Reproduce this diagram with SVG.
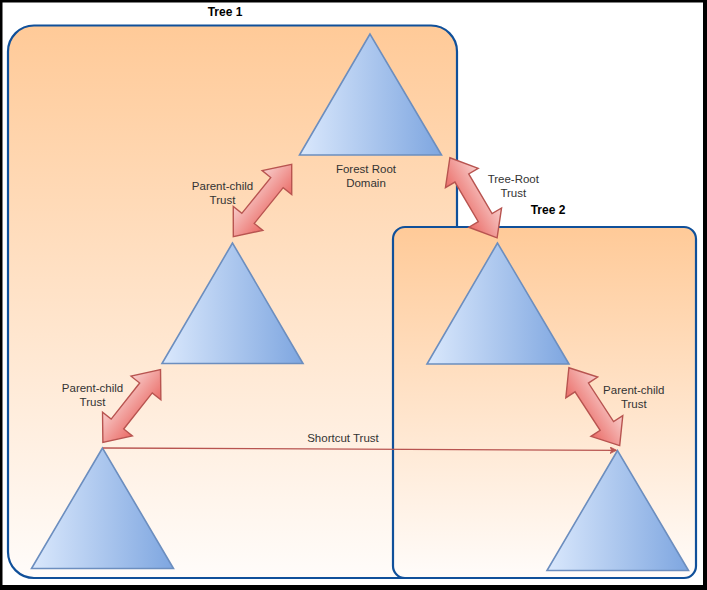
<svg xmlns="http://www.w3.org/2000/svg" width="707" height="590" viewBox="0 0 707 590">
<defs>
<linearGradient id="boxGrad" x1="0" y1="0" x2="0" y2="1">
<stop offset="0" stop-color="#FFCA98"/>
<stop offset="1" stop-color="#FFFCFA"/>
</linearGradient>
<linearGradient id="triGrad" x1="0" y1="0" x2="1" y2="0">
<stop offset="0" stop-color="#DAE8FC"/>
<stop offset="1" stop-color="#7EA6E0"/>
</linearGradient>
<linearGradient id="arrGrad" x1="0" y1="0" x2="0" y2="1">
<stop offset="0" stop-color="#F8CECC"/>
<stop offset="1" stop-color="#EA6B66"/>
</linearGradient>
<marker id="tip" viewBox="0 0 10 10" refX="9" refY="5" markerWidth="7" markerHeight="7" markerUnits="userSpaceOnUse" orient="auto">
<path d="M0,0 L10,5 L0,10 L3,5 Z" fill="#B85450" stroke="#B85450" stroke-width="1"/>
</marker>
<path id="dblArrow" d="M-46.5,0 L-23,-19 L-23,-8 L23,-8 L23,-19 L46.5,0 L23,19 L23,8 L-23,8 L-23,19 Z"/>
</defs>
<style>
.box{fill:url(#boxGrad);stroke:#10509A;stroke-width:2.2}
.tri{fill:url(#triGrad);stroke:#6C8EBF;stroke-width:1.6;stroke-linejoin:miter}
.blk{fill:url(#arrGrad);stroke:#B85450;stroke-width:1.4}
.lbl{font-family:"Liberation Sans",Arial,sans-serif;font-size:11.5px;fill:#333333;text-anchor:middle}
.ttl{font-family:"Liberation Sans",Arial,sans-serif;font-size:12px;font-weight:bold;fill:#000000;text-anchor:middle}
.edge{fill:none;stroke:#B85450;stroke-width:1.3}
</style>
<rect x="0" y="0" width="707" height="590" fill="#000000"/>
<rect x="2.5" y="2.5" width="700.5" height="582.5" fill="#FFFFFF"/>

<g id="tree1">
<rect class="box" x="8" y="25.5" width="449" height="552.5" rx="26" ry="26"/>
<text class="ttl" x="225" y="16">Tree 1</text>
</g>
<g id="tree2">
<rect class="box" x="393" y="227" width="303" height="351" rx="12" ry="12"/>
<text class="ttl" x="548" y="214">Tree 2</text>
</g>

<g id="forest-root">
<polygon class="tri" points="370,34 299.5,155 441.5,155"/>
<text class="lbl" x="366" y="172.5">Forest Root</text>
<text class="lbl" x="366" y="186.5">Domain</text>
</g>
<g id="tree1-child">
<polygon class="tri" points="232.5,243 162,363.5 303,363.5"/>
</g>
<g id="tree1-grandchild">
<polygon class="tri" points="102.5,448 31.5,568.5 173.5,568.5"/>
</g>
<g id="tree2-root">
<polygon class="tri" points="497.5,243 427,364 569,364"/>
</g>
<g id="tree2-child">
<polygon class="tri" points="617.5,450.5 547,570.5 688.5,570.5"/>
</g>

<g id="connectors">
<path class="edge" d="M103,448 L616,450.3" marker-end="url(#tip)"/>
<text class="lbl" x="343" y="442">Shortcut Trust</text>

<use href="#dblArrow" class="blk" transform="translate(262.5,200.5) rotate(-51.1)"/>
<text class="lbl" x="222.5" y="190">Parent-child</text>
<text class="lbl" x="222.5" y="204">Trust</text>

<use href="#dblArrow" class="blk" transform="translate(473.5,197.8) rotate(59.5)"/>
<text class="lbl" x="513.3" y="183.3">Tree-Root</text>
<text class="lbl" x="513.3" y="197.3">Trust</text>

<use href="#dblArrow" class="blk" transform="translate(131.7,406) rotate(-51.7)"/>
<text class="lbl" x="92.5" y="391.7">Parent-child</text>
<text class="lbl" x="92.5" y="406">Trust</text>

<use href="#dblArrow" class="blk" transform="translate(594.3,406.7) rotate(56.9)"/>
<text class="lbl" x="633.8" y="394">Parent-child</text>
<text class="lbl" x="633.8" y="408">Trust</text>
</g>
</svg>
